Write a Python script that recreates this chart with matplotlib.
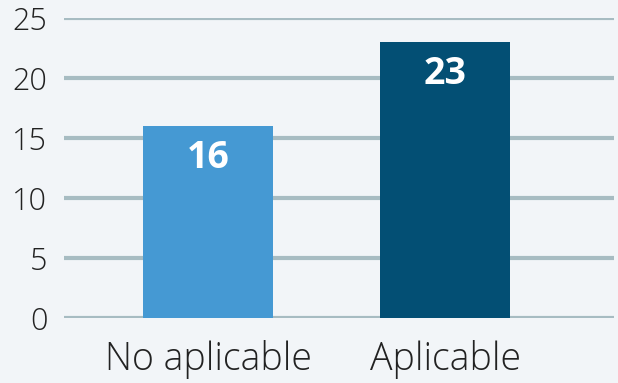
import matplotlib.pyplot as plt

categories = ['No aplicable', 'Aplicable']
values = [16, 23]
bar_colors = ['#4599d3', '#034f74']
y_ticks = [0, 5, 10, 15, 20, 25]

plt.rcParams['font.family'] = ['Open Sans', 'DejaVu Sans']

fig = plt.figure(figsize=(6.18, 3.83), dpi=100, facecolor='#f2f5f8')
ax = fig.add_axes([0.1036, 0.1697, 0.8899, 0.7833], facecolor='#f2f5f8')

x = list(range(len(categories)))
ax.bar(x, values, width=0.55, color=bar_colors, zorder=3)

for xi, v in zip(x, values):
    ax.text(xi, v - 2.7, str(v), ha='center', va='center', color='white',
            fontsize=27, fontweight='bold', zorder=4)

ax.set_ylim(0, 25)
ax.set_xlim(-0.608, 1.713)
ax.set_yticks(y_ticks)
ax.set_xticks(x)
ax.set_xticklabels(categories, fontweight='light')
for lbl in ax.get_yticklabels():
    lbl.set_fontweight('light')
ax.yaxis.grid(True, color='#a7bcc2', linewidth=3, zorder=1)
ax.set_axisbelow(True)
ax.tick_params(axis='y', length=0, pad=12, labelsize=22, labelcolor='#222222')
ax.tick_params(axis='x', length=0, pad=16, labelsize=27, labelcolor='#222222')
for s in ax.spines.values():
    s.set_visible(False)

fig.savefig('out.png', dpi=100, facecolor=fig.get_facecolor())
